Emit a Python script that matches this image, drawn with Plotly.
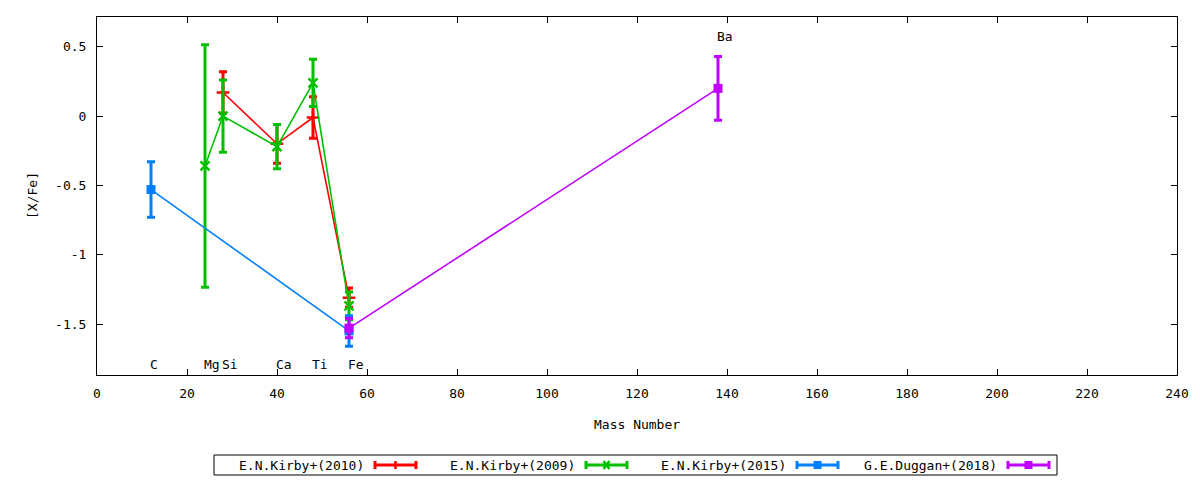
import plotly.graph_objects as go

# element labels along the mass axis
elements = ["C", "Mg", "Si", "Ca", "Ti", "Fe", "Ba"]
element_mass = [12, 24, 28, 40, 48, 56, 138]

# [X/Fe] per study (mass number, value, error)
kirby2010_mass = [28, 40, 48, 56]
kirby2010_val = [0.17, -0.20, -0.01, -1.31]
kirby2010_err = [0.15, 0.14, 0.15, 0.07]

kirby2009_mass = [24, 28, 40, 48, 56]
kirby2009_val = [-0.36, 0.00, -0.22, 0.24, -1.37]
kirby2009_err = [0.875, 0.26, 0.16, 0.17, 0.10]

kirby2015_mass = [12, 56]
kirby2015_val = [-0.53, -1.55]
kirby2015_err = [0.20, 0.11]

duggan2018_mass = [56, 138]
duggan2018_val = [-1.53, 0.20]
duggan2018_err = [0.07, 0.23]

FONT = "DejaVu Sans Mono"

# page offset of the figure div (default body margin)
OFF = 8
FIG_W, FIG_H = 1200 - OFF, 480 - OFF

# plot area in page pixels (gnuplot-like layout)
L, R, T, B = 97, 1177, 17, 375


def paper(xp, yp):
    return (xp - L) / (R - L), (B - yp) / (B - T)


series = [
    ("E.N.Kirby+(2010)", "#ff0000", "cross-thin-open", kirby2010_mass, kirby2010_val, kirby2010_err),
    ("E.N.Kirby+(2009)", "#00c000", "x-thin-open", kirby2009_mass, kirby2009_val, kirby2009_err),
    ("E.N.Kirby+(2015)", "#0080ff", "square", kirby2015_mass, kirby2015_val, kirby2015_err),
    ("G.E.Duggan+(2018)", "#c000ff", "square", duggan2018_mass, duggan2018_val, duggan2018_err),
]

fig = go.Figure()
for name, color, symbol, xs, ys, errs in series:
    square = symbol == "square"
    fig.add_trace(
        go.Scatter(
            x=xs,
            y=ys,
            name=name,
            mode="lines+markers",
            line=dict(color=color, width=1.6),
            marker=dict(
                symbol=symbol,
                size=9,
                color=color,
                line=dict(color=color, width=0 if square else 2.5),
            ),
            error_y=dict(type="data", array=errs, visible=True, color=color, thickness=3, width=4),
            showlegend=False,
            cliponaxis=False,
        )
    )

annotations = []
for el, m in zip(elements, element_mass):
    y = 0.575 if el == "Ba" else -1.79
    annotations.append(
        dict(x=m, y=y, text=el, showarrow=False, xanchor="left", yanchor="middle", xshift=-3,
             font=dict(family=FONT, size=13, color="black"))
    )

# axis titles
tx, ty = paper(637, 425)
annotations.append(dict(x=tx, y=ty, xref="paper", yref="paper", text="Mass Number", showarrow=False,
                        xanchor="center", yanchor="middle",
                        font=dict(family=FONT, size=13, color="black")))
tx, ty = paper(32, 196)
annotations.append(dict(x=tx, y=ty, xref="paper", yref="paper", text="[X/Fe]", showarrow=False,
                        xanchor="center", yanchor="middle", textangle=-90,
                        font=dict(family=FONT, size=13, color="black")))

# gnuplot style legend below the plot: text then sample
shapes = []
x0, y0 = paper(214, 455)
x1, y1 = paper(1057, 475)
shapes.append(dict(type="rect", xref="paper", yref="paper", x0=x0, y0=y0, x1=x1, y1=y1,
                   line=dict(color="black", width=1)))
ly = 465
for i, (name, color, symbol, *_rest) in enumerate(series):
    tr = 366 + 211 * i
    s0, s1 = tr + 8, tr + 51
    ax, ay = paper(tr, ly)
    annotations.append(dict(x=ax, y=ay, xref="paper", yref="paper", text=name, showarrow=False,
                            xanchor="right", yanchor="middle",
                            font=dict(family=FONT, size=13, color="black")))

    def seg(xa, ya, xb, yb, w=3):
        pa = paper(xa, ya)
        pb = paper(xb, yb)
        shapes.append(dict(type="line", xref="paper", yref="paper", x0=pa[0], y0=pa[1],
                           x1=pb[0], y1=pb[1], line=dict(color=color, width=w)))

    seg(s0, ly, s1, ly)
    seg(s0 + 1, ly - 4, s0 + 1, ly + 4)
    seg(s1 - 1, ly - 4, s1 - 1, ly + 4)
    mid = (s0 + s1) / 2
    if symbol == "square":
        pa = paper(mid - 4, ly + 4)
        pb = paper(mid + 4, ly - 4)
        shapes.append(dict(type="rect", xref="paper", yref="paper", x0=pa[0], y0=pa[1],
                           x1=pb[0], y1=pb[1], fillcolor=color, line=dict(width=0)))
    elif symbol == "cross-thin-open":
        seg(mid, ly - 4, mid, ly + 4, 2.5)
    else:
        seg(mid - 3, ly - 4, mid + 3, ly + 4, 2.5)
        seg(mid - 3, ly + 4, mid + 3, ly - 4, 2.5)

axis_common = dict(
    showline=True,
    linecolor="black",
    linewidth=1,
    mirror="allticks",
    ticks="inside",
    ticklen=6,
    tickcolor="black",
    showgrid=False,
    zeroline=False,
    tickfont=dict(family=FONT, size=13, color="black"),
)

fig.update_layout(
    width=FIG_W,
    height=FIG_H,
    margin=dict(l=L - OFF, r=FIG_W - (R - OFF), t=T - OFF, b=FIG_H - (B - OFF), autoexpand=False),
    paper_bgcolor="white",
    plot_bgcolor="white",
    showlegend=False,
    xaxis=dict(range=[0, 240], tickvals=list(range(0, 241, 20)), ticklabelstandoff=6, **axis_common),
    yaxis=dict(
        range=[-1.868, 0.715],
        tickvals=[-1.5, -1, -0.5, 0, 0.5],
        ticktext=["-1.5", "-1", "-0.5", "0", "0.5"],
        ticklabelstandoff=7,
        **axis_common,
    ),
    annotations=annotations,
    shapes=shapes,
)

fig.write_html("out.html")
